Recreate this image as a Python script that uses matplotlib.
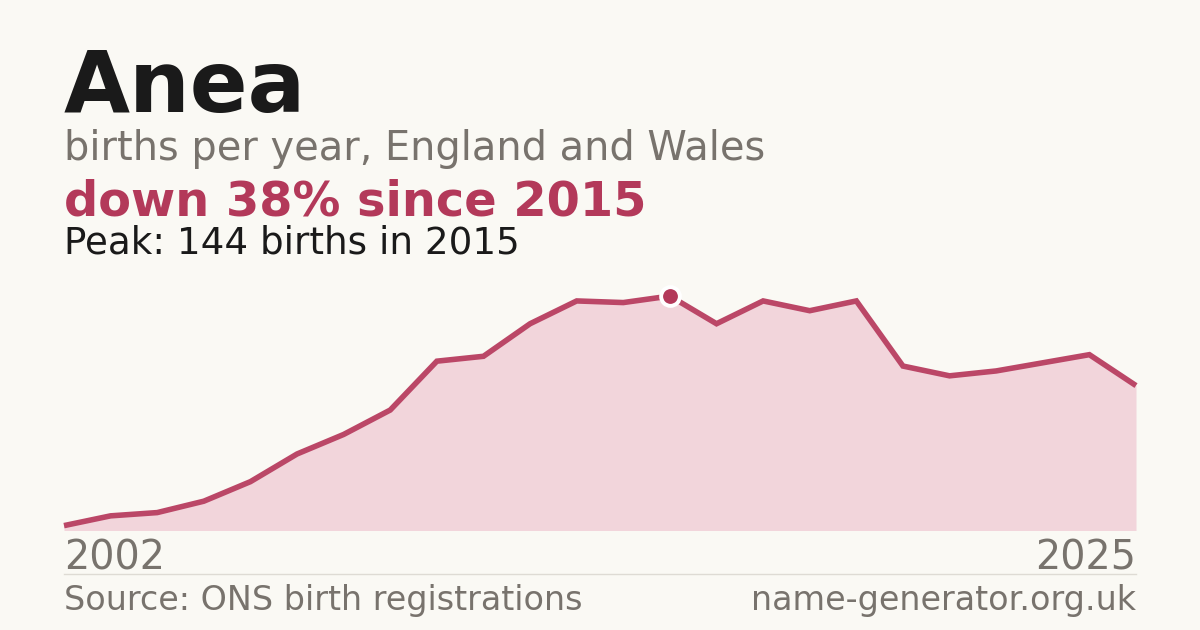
import numpy as np
import matplotlib.pyplot as plt

years = list(range(2002, 2026))
births = [3, 9, 11, 18, 30, 47, 59, 74, 104, 107, 127, 141, 140, 144,
          127, 141, 135, 141, 101, 95, 98, 103, 108, 89]

name = "Anea"
subtitle = "births per year, England and Wales"
change_text = "down 38% since 2015"
peak_text = "Peak: 144 births in 2015"
source_text = "Source: ONS birth registrations"
site_text = "name-generator.org.uk"

bg = "#faf9f4"
red = "#b3395a"
line_col = "#bb4767"
fill = "#f2d5db"
grey = "#78736d"
dark = "#1a1a1a"

W, H = 1200, 630
fig = plt.figure(figsize=(12, 6.3), dpi=100, facecolor=bg)

def fy(y):
    return 1 - y / H

# plot area in pixels
left, right = 64, 1136
bottom, top = 530.5, 270
ax = fig.add_axes([left / W, fy(bottom), (right - left) / W, (bottom - top) / H])
ax.set_facecolor(bg)
ax.fill_between(years, births, 0, color=fill, linewidth=0)
ax.plot(years, births, color=line_col, linewidth=4.0, solid_joinstyle="miter",
        solid_capstyle="butt", clip_on=False)
peak_i = int(np.argmax(births))
ax.plot(years[peak_i], births[peak_i], "o", color=red, markersize=13.5,
        markeredgecolor="white", markeredgewidth=2.8, clip_on=False, zorder=5)
ax.set_xlim(years[0], years[-1])
ax.set_ylim(0, 160)
ax.axis("off")

# header texts
fig.text(left / W, fy(111.7), name, fontsize=61.5, fontweight="bold", color=dark, va="baseline")
fig.text(left / W, fy(160), subtitle, fontsize=28.7, color=grey, va="baseline")
fig.text(left / W, fy(215), change_text, fontsize=34.5, fontweight="bold", color=red, va="baseline")
fig.text(left / W, fy(253), peak_text, fontsize=26.8, color=dark, va="baseline")

# year labels
fig.text(left / W, fy(570), str(years[0]), fontsize=28.5, color=grey, va="baseline", ha="left")
fig.text(right / W, fy(570), str(years[-1]), fontsize=28.5, color=grey, va="baseline", ha="right")

# separator
fig.add_artist(plt.Line2D([left / W, right / W], [fy(574), fy(574)], color="#dedbd4", linewidth=1))

# footer
fig.text(left / W, fy(610), source_text, fontsize=24, color=grey, va="baseline", ha="left")
fig.text(right / W, fy(610), site_text, fontsize=24, color=grey, va="baseline", ha="right")

fig.savefig("out.png", dpi=100, facecolor=bg)
